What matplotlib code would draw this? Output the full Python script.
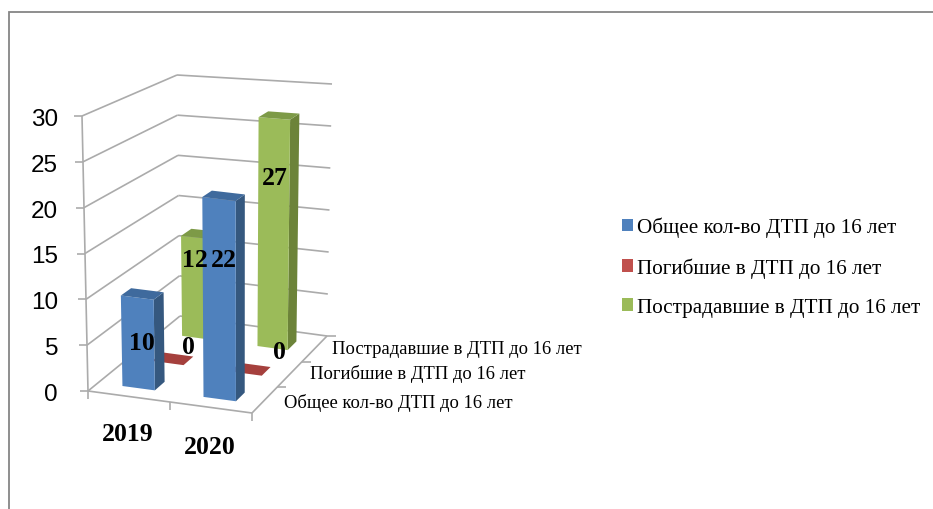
import matplotlib
matplotlib.use("Agg")
import matplotlib.pyplot as plt
from matplotlib.patches import Polygon, Patch

categories = ["2019", "2020"]
series_names = ["Общее кол-во ДТП до 16 лет", "Погибшие в ДТП до 16 лет", "Пострадавшие в ДТП до 16 лет"]
total_values = [10, 22]
killed_values = [0, 0]
injured_values = [12, 27]
y_ticks = [0, 5, 10, 15, 20, 25, 30]

front_colors = ["#4f81bd", "#c0504d", "#9bbb59"]
side_colors = ["#35587f", "#8e3a38", "#6c8339"]
top_colors = ["#3f6a9d", "#a5403d", "#7d9a47"]
GRID = "#ababab"
SERIF = "Liberation Serif"

# 3-D box corners as seen on the page: (cat, series, value) -> pixel
FL0, FR0, BL0, BR0 = (88, 392), (252, 414), (180, 317), (327, 337)
FL1, FR1, BL1, BR1 = (82, 117), (252, 138), (177, 76), (332, 85)
NC, NS, VMAX = len(categories), len(series_names), y_ticks[-1]


def lerp(a, b, t):
    return a + (b - a) * t


def project(c, s, v):
    u, w, t = c / NC, s / NS, v / VMAX
    out = []
    for i in range(2):
        bottom = lerp(lerp(FL0[i], FR0[i], u), lerp(BL0[i], BR0[i], u), w)
        top = lerp(lerp(FL1[i], FR1[i], u), lerp(BL1[i], BR1[i], u), w)
        out.append(lerp(bottom, top, t))
    return tuple(out)


fig = plt.figure(figsize=(9.33, 5.10), dpi=100)
ax = fig.add_axes([0, 0, 1, 1])
ax.set_xlim(0, 933)
ax.set_ylim(510, 0)
ax.axis("off")

# outer chart frame, cropped at right and bottom
ax.plot([9, 9, 933], [510, 13, 13], color="#868686", lw=1.3, solid_joinstyle="miter")


def seg(a, b, lw=1.2, color=GRID, z=1):
    ax.plot([a[0], b[0]], [a[1], b[1]], color=color, lw=lw, zorder=z, solid_capstyle="butt")


for val in y_ticks:
    seg(project(0, 0, val), project(0, NS, val))
    seg(project(0, NS, val), project(NC, NS, val))
    p = project(0, 0, val)
    seg((p[0] - 8, p[1]), p)
    ax.text(58, p[1] + 3, str(val), ha="right", va="center", fontsize=17.5,
            family="Liberation Sans", color="black", zorder=20)
seg(project(0, 0, 0), project(0, 0, VMAX))
seg(project(0, 0, 0), project(NC, 0, 0))
seg(project(NC, 0, 0), project(NC, NS, 0))
for c in range(NC + 1):
    p = project(c, 0, 0)
    seg(p, (p[0], p[1] + 8))
for s in range(1, NS + 1):
    p = project(NC, s, 0)
    seg(p, (p[0] + 9, p[1]))

values_by_series = [total_values, killed_values, injured_values]
HALF_W, HALF_D = 0.2, 0.17


def bar(c_idx, s_idx, val):
    c, s = c_idx + 0.5, s_idx + 0.5
    x0, x1, y0, y1 = c - HALF_W, c + HALF_W, s - HALF_D, s + HALF_D
    z = 10 - s_idx
    if val > 0:
        ax.add_patch(Polygon([project(x1, y0, 0), project(x1, y1, 0), project(x1, y1, val), project(x1, y0, val)],
                             fc=side_colors[s_idx], ec="none", zorder=z))
        ax.add_patch(Polygon([project(x0, y0, 0), project(x1, y0, 0), project(x1, y0, val), project(x0, y0, val)],
                             fc=front_colors[s_idx], ec="none", zorder=z))
    ax.add_patch(Polygon([project(x0, y0, val), project(x1, y0, val), project(x1, y1, val), project(x0, y1, val)],
                         fc=top_colors[s_idx], ec="none", zorder=z))


for s_idx in reversed(range(NS)):
    for c_idx in range(NC):
        bar(c_idx, s_idx, values_by_series[s_idx][c_idx])

# data labels (placed by eye relative to the bars' tops), keyed (category, series)
label_spots = {
    (0, 0): (142, 344), (1, 0): (224, 261),
    (0, 1): (188, 348), (1, 1): (279, 353),
    (0, 2): (195, 261), (1, 2): (275, 179),
}
for (c_idx, s_idx), (lx, ly) in label_spots.items():
    ax.text(lx, ly, str(values_by_series[s_idx][c_idx]), ha="center", va="center",
            fontsize=18.5, family=SERIF, weight="bold", color="black", zorder=30)

# category labels
for c_idx, (name, (lx, ly)) in enumerate(zip(categories, [(128, 435), (210, 448)])):
    ax.text(lx, ly, name, ha="center", va="center", fontsize=18.5, family=SERIF, weight="bold")

# series axis labels
for s_idx, (name, lx, ly) in enumerate(zip(series_names, [284, 310, 332], [403, 374, 350])):
    ax.text(lx, ly, name, ha="left", va="center", fontsize=13.45, family=SERIF)

# legend
handles = [Patch(fc=col, ec="none") for col in front_colors]
ax.legend(handles, series_names, loc="upper left", bbox_to_anchor=(622 / 933, 1 - 218 / 510),
          frameon=False, borderaxespad=0, borderpad=0, handlelength=0.53, handleheight=0.53,
          handletextpad=0.2, labelspacing=0.95,
          prop={"family": SERIF, "size": 15.25})

fig.savefig("out.png", dpi=100)
